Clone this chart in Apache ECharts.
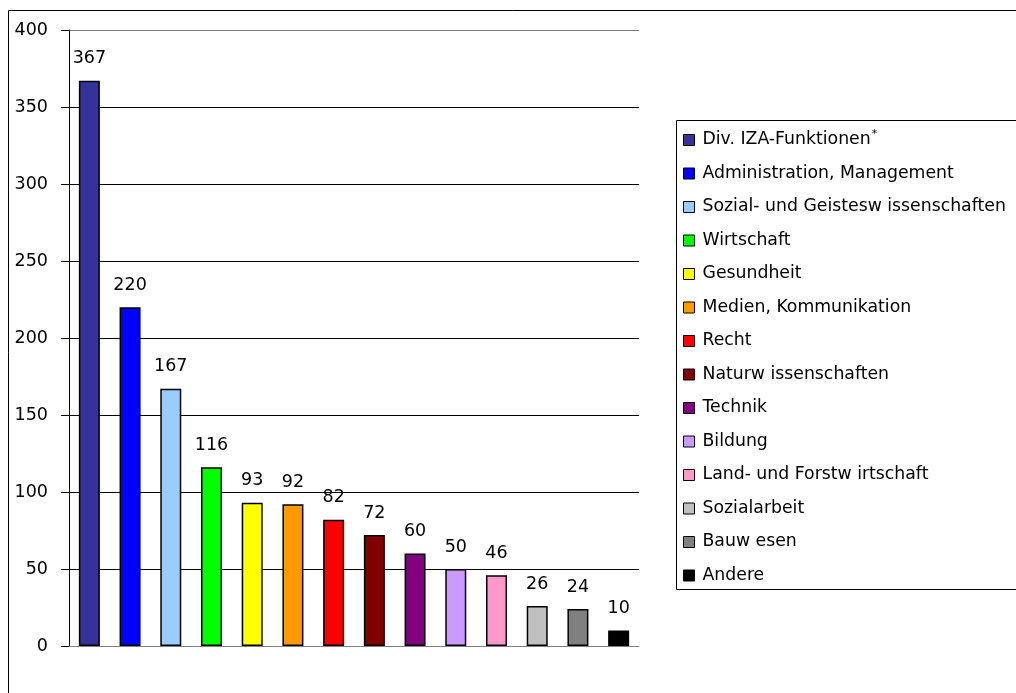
<!DOCTYPE html>
<html><head><meta charset="utf-8">
<script src="https://cdn.jsdelivr.net/npm/echarts@6/dist/echarts.min.js"></script>
<style>html,body{margin:0;padding:0;background:#fff}#c{width:1016px;height:693px}</style>
</head><body><div id="c"></div>
<script>
const categories = ["Div. IZA-Funktionen", "Administration, Management", "Sozial- und Geistesw issenschaften", "Wirtschaft", "Gesundheit", "Medien, Kommunikation", "Recht", "Naturw issenschaften", "Technik", "Bildung", "Land- und Forstw irtschaft", "Sozialarbeit", "Bauw esen", "Andere"];
const values = [367, 220, 167, 116, 93, 92, 82, 72, 60, 50, 46, 26, 24, 10];
const colors = ["#333399", "#0000FF", "#99CCFF", "#00FF00", "#FFFF00", "#FF9900", "#FF0000", "#800000", "#800080", "#CC99FF", "#FF99CC", "#C0C0C0", "#808080", "#000000"];
const yTicks = [0, 50, 100, 150, 200, 250, 300, 350, 400];

const FONT = '"DejaVu Sans", sans-serif';
const series = categories.map((name, i) => ({
  name: name,
  type: 'bar',
  stack: 'all',
  barWidth: 21,
  itemStyle: { color: colors[i], borderColor: '#000', borderWidth: 1.5 },
  label: { show: true, position: 'top', distance: 13, color: '#000', fontSize: 17.5, fontFamily: FONT },
  data: values.map((v, j) => j === i ? v : '-')
}));

const chart = echarts.init(document.getElementById('c'), null, { renderer: 'canvas' });
chart.setOption({
  animation: false,
  backgroundColor: '#fff',
  graphic: [
    { type: 'rect', shape: { x: 8.5, y: 10.5, width: 1100, height: 800 }, style: { fill: 'none', stroke: '#000', lineWidth: 1 }, z: -1 },
    { type: 'rect', shape: { x: 676.5, y: 120.5, width: 500, height: 469 }, style: { fill: '#fff', stroke: '#000', lineWidth: 1 }, z: 0 }
  ],
  grid: { left: 69, right: 377, top: 30, bottom: 47 },
  xAxis: {
    type: 'category',
    data: categories,
    axisLine: { lineStyle: { color: '#808080', width: 1 } },
    axisTick: { show: false },
    axisLabel: { show: false }
  },
  yAxis: {
    type: 'value',
    min: yTicks[0], max: yTicks[yTicks.length - 1], interval: 50,
    axisLine: { show: true, lineStyle: { color: '#000', width: 1 } },
    axisTick: { show: true, length: 8, lineStyle: { color: '#000' } },
    axisLabel: { margin: 21, fontSize: 17.5, color: '#000', fontFamily: FONT },
    splitLine: { show: true, lineStyle: { color: ['#808080', '#000', '#000', '#000', '#000', '#000', '#000', '#000', '#808080'], width: 1 } }
  },
  legend: {
    orient: 'vertical',
    left: 678,
    top: 124,
    itemWidth: 11,
    itemHeight: 11,
    itemGap: 11.5,
    icon: 'rect',
    itemStyle: { borderColor: '#000', borderWidth: 1 },
    textStyle: {
      fontSize: 17.3, color: '#000', fontFamily: FONT, lineHeight: 22, padding: [0, 0, 0, 3],
      rich: {
        a: { fontSize: 17.3, fontFamily: FONT, color: '#000', lineHeight: 22 },
        s: { fontSize: 11, fontFamily: FONT, color: '#000', verticalAlign: 'top', lineHeight: 22, padding: [0, 0, 6, 1] }
      }
    },
    formatter: function (n) { return n === categories[0] ? '{a|' + n + '}{s|*}' : n; },
    data: categories
  },
  series: series
});
</script></body></html>
